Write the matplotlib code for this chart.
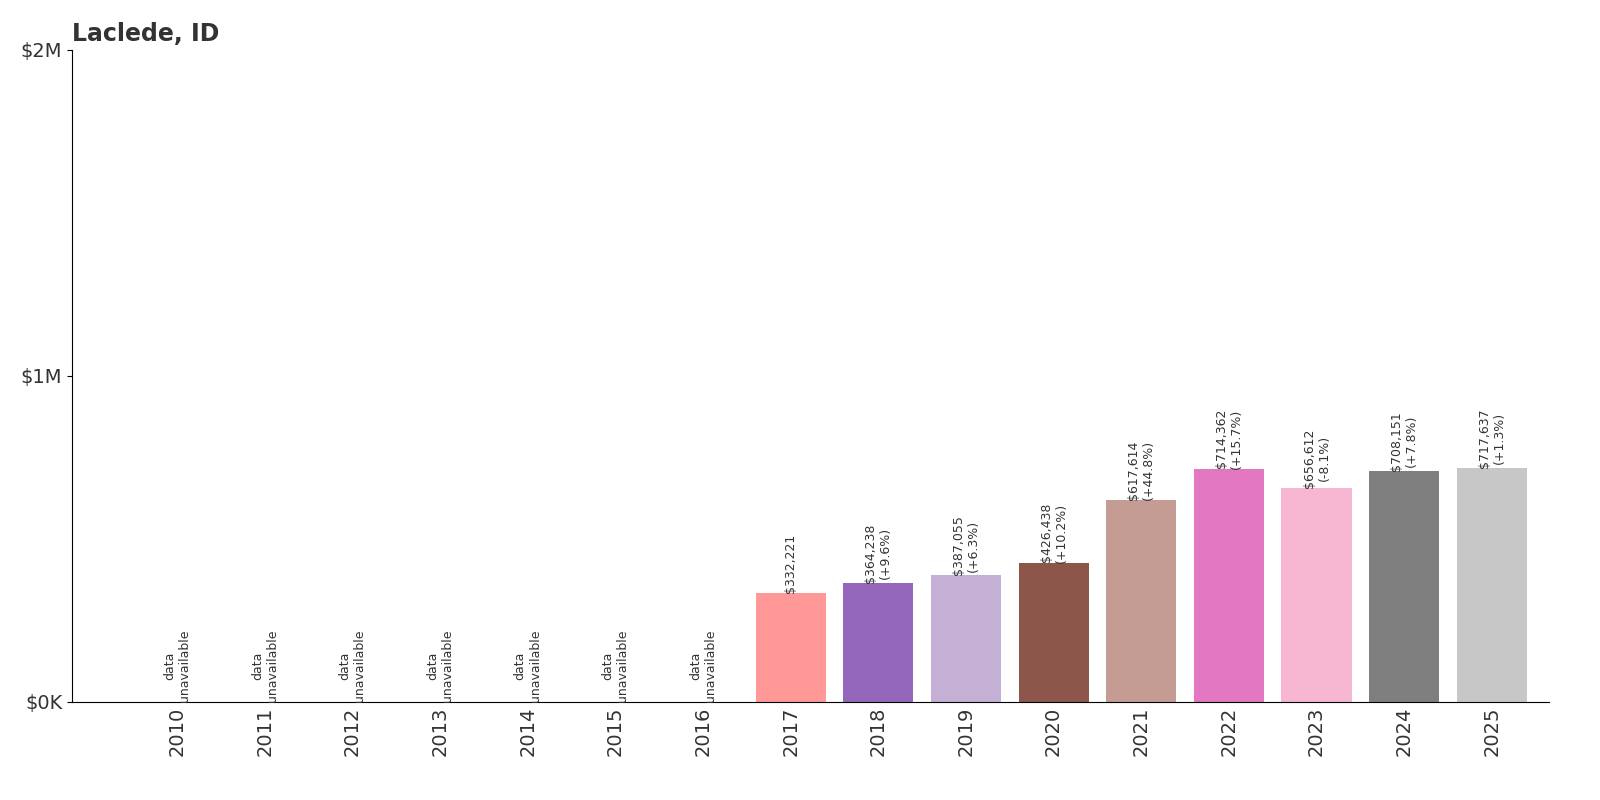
import matplotlib
matplotlib.use("Agg")
import matplotlib.pyplot as plt

years = [str(y) for y in range(2010, 2026)]
values = [None]*7 + [332221, 364238, 387055, 426438, 617614, 714362, 656612, 708151, 717637]
changes = [None]*8 + ["+9.6%", "+6.3%", "+10.2%", "+44.8%", "+15.7%", "-8.1%", "+7.8%", "+1.3%"]
colors = ["#ff9896", "#9467bd", "#c5b0d5", "#8c564b", "#c49c94", "#e377c2", "#f7b6d2", "#7f7f7f", "#c7c7c7"]

fig = plt.figure(figsize=(16, 8), dpi=100)
ax = fig.add_axes([0.045, 0.123, 0.923, 0.815])
x = list(range(len(years)))
ci = 0
for i, v in enumerate(values):
    if v is None:
        ax.text(i, 0, "data\nunavailable", rotation=90, ha="center", va="bottom", fontsize=9, color="#333333")
    else:
        ax.bar(i, v, width=0.8, color=colors[ci]); ci += 1
        lbl = f"${v:,}" + (f"\n({changes[i]})" if changes[i] else "")
        ax.text(i, v, lbl, rotation=90, ha="center", va="bottom", fontsize=9, color="#333333")
ax.set_xlim(-1.2, len(years) - 0.35)
ax.set_ylim(0, 2000000)
ax.set_yticks([0, 1000000, 2000000])
ax.set_yticklabels(["$0K", "$1M", "$2M"], fontsize=14, color="#333333")
ax.set_xticks(x)
ax.set_xticklabels(years, rotation=90, fontsize=14, color="#333333")
for s in ["top", "right"]:
    ax.spines[s].set_visible(False)
ax.tick_params(axis="x", length=0)
ax.set_title("Laclede, ID", loc="left", fontsize=17, fontweight="bold", color="#333333", x=0.0, y=1.0, pad=6)
fig.savefig("out.png", dpi=100)
